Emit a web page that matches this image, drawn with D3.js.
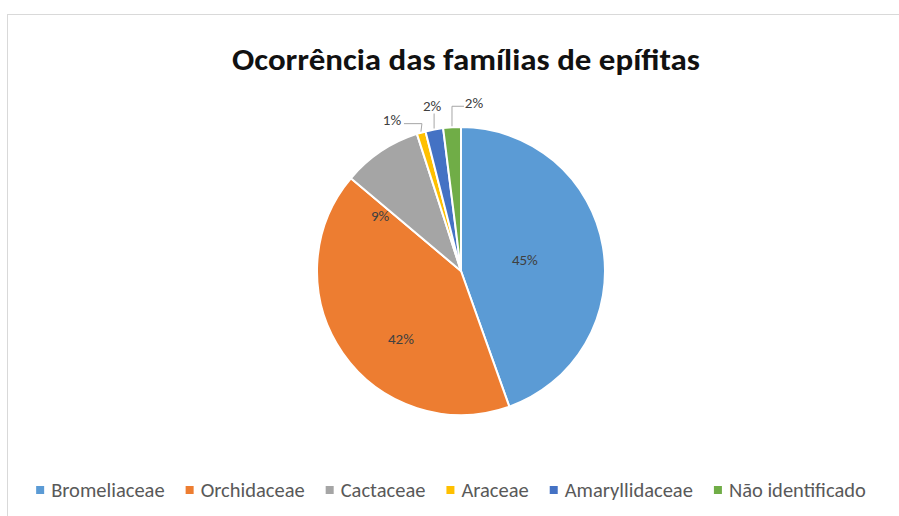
<!DOCTYPE html>
<html>
<head>
<meta charset="utf-8">
<script src="https://cdn.jsdelivr.net/npm/d3@7"></script>
<style>
html,body{margin:0;padding:0;background:#fff;}
svg{display:block;}
</style>
</head>
<body>
<svg id="chart" width="899" height="516"></svg>
<script>
const title = "Ocorrência das famílias de epífitas";
const categories = ["Bromeliaceae","Orchidaceae","Cactaceae","Araceae","Amaryllidaceae","Não identificado"];
const values = [45, 42, 9, 1, 2, 2];
const labels = ["45%","42%","9%","1%","2%","2%"];
const colors = ["#5B9BD5","#ED7D31","#A5A5A5","#FFC000","#4472C4","#70AD47"];

const svg = d3.select("#chart");
const W = 899, H = 516;
const font = "Carlito, Calibri, 'Liberation Sans Narrow', 'Liberation Sans', Arial, sans-serif";

// chart area border
svg.append("rect").attr("x",7.5).attr("y",14.5).attr("width",W).attr("height",H)
  .attr("fill","#fff").attr("stroke","#d9d9d9").attr("stroke-width",1);

// title
const tt = svg.append("text").attr("x",466).attr("y",70).attr("text-anchor","middle")
  .attr("font-family",font).attr("font-weight","bold").attr("font-size",31)
  .attr("fill","#111").text(title);
const tw = tt.node().getComputedTextLength();
if (tw > 0) tt.attr("textLength",468).attr("lengthAdjust","spacingAndGlyphs");

const cx = 461, cy = 271, r = 144;
const g = svg.append("g").attr("transform",`translate(${cx},${cy})`);
const pie = d3.pie().sort(null).value(d=>d);
const arcs = pie(values);
const arc = d3.arc().innerRadius(0).outerRadius(r);

g.selectAll("path.slice").data(arcs).enter().append("path")
  .attr("class","slice").attr("d",arc)
  .attr("fill",(d,i)=>colors[i]).attr("stroke","#fff").attr("stroke-width",2).attr("stroke-linejoin","round");

// inside labels for large slices, outside labels with leaders for small ones
const insideFactor = [0.45, 0.63, 0.68];
const outsideOffset = [null,null,null,[-29,-12],[-2,-23],[22,-23]];
arcs.forEach((d,i)=>{
  const mid = (d.startAngle+d.endAngle)/2;
  if (i < 3) {
    const rr = r*insideFactor[i];
    let a = mid;
    if (i===1) a = mid - 0.24;
    if (i===2) a = mid - 0.38;
    g.append("text").attr("x",Math.sin(a)*rr).attr("y",-Math.cos(a)*rr+5)
      .attr("text-anchor","middle").attr("font-family",font).attr("font-size",15)
      .attr("fill","#404040").text(labels[i]);
  } else {
    const ex = Math.sin(mid)*(r+1), ey = -Math.cos(mid)*(r+1);
    const [ox,oy] = outsideOffset[i];
    const lx = ex+ox, ly = ey+oy;
    g.append("text").attr("x",lx).attr("y",ly+5)
      .attr("text-anchor","middle").attr("font-family",font).attr("font-size",15)
      .attr("fill","#404040").text(labels[i]);
    let pts;
    if (i===3) pts = [[lx+12,ly+4],[lx+30,ly+4],[ex,ey]];
    else if (i===4) pts = [[ex,ly+8],[ex,ey]];
    else pts = [[lx-10,ly+3],[ex,ly+3],[ex,ey]];
    g.append("path").attr("d",d3.line()(pts)).attr("fill","none")
      .attr("stroke","#a6a6a6").attr("stroke-width",1);
  }
});

// legend
const lg = svg.append("g");
const items = [];
categories.forEach((c,i)=>{
  const t = lg.append("text").attr("font-family",font).attr("font-size",20.5)
    .attr("fill","#595959").attr("y",497).text(c);
  const w = t.node().getComputedTextLength();
  items.push({t,w,i});
});
const gap = 21, mark = 8, mpad = 7;
const total = d3.sum(items, d=>mark+mpad+d.w) + gap*(items.length-1);
let x = 451 - total/2;
items.forEach(d=>{
  lg.append("rect").attr("x",x).attr("y",486).attr("width",mark).attr("height",mark)
    .attr("fill",colors[d.i]);
  d.t.attr("x",x+mark+mpad);
  x += mark+mpad+d.w+gap;
});
</script>
</body>
</html>
